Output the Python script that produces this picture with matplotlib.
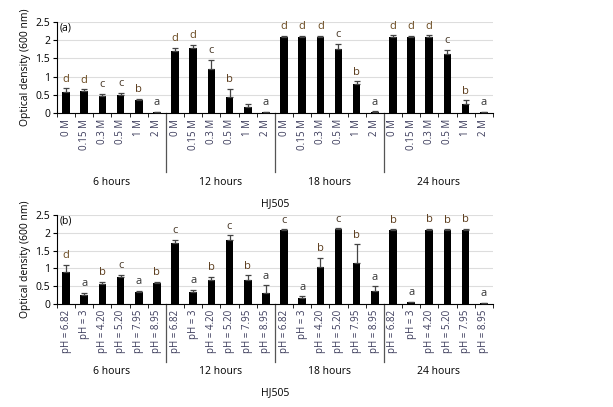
import numpy as np
import matplotlib.pyplot as plt
import matplotlib.transforms as mtransforms

hours = ["6 hours", "12 hours", "18 hours", "24 hours"]
salt_labels = ["0 M", "0.15 M", "0.3 M", "0.5 M", "1 M", "2 M"]
ph_labels = ["pH = 6.82", "pH = 3", "pH = 4.20", "pH = 5.20", "pH = 7.95", "pH = 8.95"]

salt_od = [0.58, 0.60, 0.48, 0.50, 0.35, 0.03,
           1.70, 1.80, 1.20, 0.43, 0.18, 0.03,
           2.10, 2.10, 2.10, 1.77, 0.80, 0.04,
           2.10, 2.10, 2.10, 1.63, 0.25, 0.03]
salt_err = [0.10, 0.05, 0.05, 0.05, 0.05, 0.01,
            0.10, 0.07, 0.27, 0.23, 0.07, 0.01,
            0.02, 0.02, 0.02, 0.13, 0.07, 0.01,
            0.03, 0.02, 0.03, 0.10, 0.10, 0.01]
salt_sig = list("ddccba" "ddcb a" "dddcba" "dddcba")

ph_od = [0.90, 0.25, 0.55, 0.76, 0.33, 0.58,
         1.70, 0.35, 0.67, 1.80, 0.68, 0.30,
         2.08, 0.17, 1.03, 2.10, 1.15, 0.37,
         2.08, 0.05, 2.09, 2.08, 2.09, 0.03]
ph_err = [0.20, 0.07, 0.08, 0.06, 0.04, 0.04,
          0.10, 0.05, 0.10, 0.13, 0.13, 0.22,
          0.02, 0.05, 0.27, 0.02, 0.52, 0.13,
          0.02, 0.02, 0.02, 0.02, 0.02, 0.01]
ph_sig = list("dabcab" "cabcba" "cabcba" "babbba")

sig_colors = {"a": "#333333", "b": "#5a3a1a", "c": "#4a3a2a", "d": "#6a4a20"}

plt.rcParams['font.family'] = ['Open Sans', 'DejaVu Sans']
fig = plt.figure(figsize=(6.13, 4.07), dpi=100)
axa = fig.add_axes([0.093, 0.722, 0.711, 0.224])
axb = fig.add_axes([0.093, 0.253, 0.711, 0.219])

def panel(ax, od, err, sig, labels, tag):
    x = np.arange(len(od))
    ax.bar(x, od, width=0.42, color="black", zorder=3)
    ax.errorbar(x, od, yerr=[np.zeros(len(err)), err], fmt="none",
                ecolor="#444444", elinewidth=0.9, capsize=2.5, capthick=0.9, zorder=4)
    for i in x:
        if sig[i].strip():
            ax.text(i, od[i] + err[i] + 0.1, sig[i], ha="center", va="bottom",
                    fontsize=8, color=sig_colors[sig[i]])
    ax.set_xlim(-0.5, len(od) - 0.5)
    ax.set_ylim(0, 2.5)
    ax.set_yticks([0, 0.5, 1, 1.5, 2, 2.5])
    ax.set_yticklabels(["0", "0.5", "1", "1.5", "2", "2.5"], fontsize=7.5)
    ax.yaxis.grid(True, color="#dddddd", linewidth=0.8, zorder=0)
    ax.set_axisbelow(True)
    ax.set_xticks(x)
    ax.set_xticklabels(labels * 4, rotation=90, fontsize=7, color="#3a3a5a")
    ax.tick_params(axis="x", length=0, pad=4)
    ax.set_xticks(np.arange(-0.5, len(od), 1), minor=True)
    ax.tick_params(axis="x", which="minor", length=3, direction="out")
    ax.tick_params(axis="y", length=3, pad=2)
    for s in ["top", "right"]:
        ax.spines[s].set_visible(False)
    trans = mtransforms.blended_transform_factory(ax.transData, ax.transAxes)
    for b in [5.5, 11.5, 17.5]:
        ax.plot([b, b], [0, -0.65], transform=trans, color="#555555", lw=0.9, clip_on=False)
    for k, h in enumerate(hours):
        ax.text(k * 6 + 2.5, -0.7, h, transform=trans, ha="center", va="top", fontsize=7.5)
    ax.text(0.5, -0.93, "HJ505", transform=ax.transAxes, ha="center", va="top", fontsize=7.5)
    ax.text(0.005, 0.99, tag, transform=ax.transAxes, ha="left", va="top", fontsize=7.5)
    ax.set_ylabel("Optical density (600 nm)", fontsize=7.5, labelpad=3)

panel(axa, salt_od, salt_err, salt_sig, salt_labels, "(a)")
panel(axb, ph_od, ph_err, ph_sig, ph_labels, "(b)")

fig.savefig("out.png", dpi=100)
